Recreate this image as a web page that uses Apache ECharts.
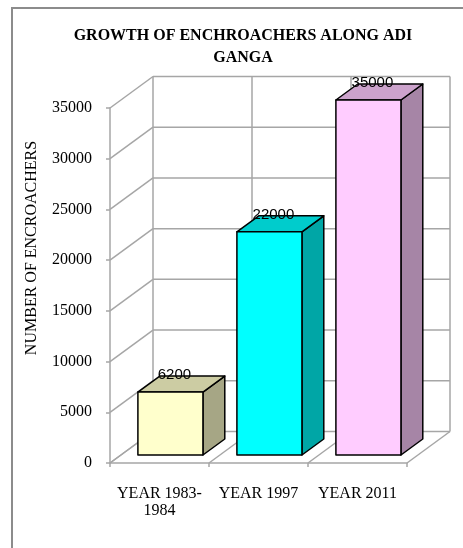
<!DOCTYPE html>
<html>
<head>
<meta charset="utf-8">
<script src="https://cdn.jsdelivr.net/npm/echarts@6/dist/echarts.min.js"></script>
<style>
html,body{margin:0;padding:0;background:#fff;}
#chart{width:463px;height:548px;}
</style>
</head>
<body>
<div id="chart"></div>
<script>
// ---- data ----
const categories = ['YEAR 1983-\n1984', 'YEAR 1997', 'YEAR 2011'];
const encroachers = [6200, 22000, 35000];
const yTicks = [0, 5000, 10000, 15000, 20000, 25000, 30000, 35000];
const titleText = 'GROWTH OF ENCHROACHERS ALONG ADI\nGANGA';
const yAxisTitle = 'NUMBER OF ENCROACHERS';

// ---- styles ----
const faceColors = [
  { front: '#FFFFCC', top: '#CCCCA3', side: '#A6A685' },
  { front: '#00FFFF', top: '#00CCCC', side: '#00A6A6' },
  { front: '#FFCCFF', top: '#CCA3CC', side: '#A685A6' }
];
const GRID = '#a6a6a6';
const DX = 43, DY = -31.5;          // depth of the 3D box
const F0 = 0.254, F1 = 0.762;        // bar depth range (fraction of box depth)
const BAR_RATIO = 0.657;

const chart = echarts.init(document.getElementById('chart'));

function line(x1, y1, x2, y2) {
  return { type: 'line', shape: { x1, y1, x2, y2 }, style: { stroke: GRID, lineWidth: 1.5 }, silent: true };
}

const option = {
  backgroundColor: '#fff',
  animation: false,
  title: {
    text: titleText,
    left: 238, top: 20, textAlign: 'center',
    textStyle: { fontFamily: 'Liberation Serif', fontWeight: 'bold', fontSize: 16, lineHeight: 22, color: '#000' }
  },
  graphic: [
    { type: 'rect', shape: { x: 12, y: 8, width: 470, height: 560 }, style: { fill: 'none', stroke: '#8c8c8c', lineWidth: 2 }, silent: true },
    { type: 'text', x: 32, y: 248, rotation: Math.PI / 2,
      style: { text: yAxisTitle, fontFamily: 'Liberation Serif', fontSize: 16, fill: '#000', textAlign: 'center', textVerticalAlign: 'middle' } }
  ],
  grid: { left: 110, top: 108, width: 297, height: 355 },
  xAxis: {
    type: 'category', data: categories,
    axisLine: { lineStyle: { color: GRID, width: 1.5 } },
    axisTick: { show: true, length: 4, lineStyle: { color: GRID, width: 1.5 } },
    axisLabel: { margin: 22, fontFamily: 'Liberation Serif', fontSize: 16, lineHeight: 17, color: '#000', interval: 0 },
    splitLine: { show: false }
  },
  yAxis: {
    type: 'value', min: 0, max: 35000, interval: 5000,
    axisLine: { show: true, lineStyle: { color: GRID, width: 1.5 } },
    axisTick: { show: true, length: 4, lineStyle: { color: GRID, width: 1.5 } },
    axisLabel: { margin: 18, fontFamily: 'Liberation Serif', fontSize: 16, color: '#000', formatter: v => String(v) },
    splitLine: { show: false }
  },
  series: [
    {
      type: 'custom', z: 1, silent: true,
      data: yTicks.map(v => [0, v]),
      renderItem: function (params, api) {
        const cs = params.coordSys;
        const y = api.coord([0, api.value(1)])[1];
        const xL = cs.x, xR = cs.x + cs.width;
        return { type: 'group', children: [
          line(xL, y, xL + DX, y + DY),
          line(xL + DX, y + DY, xR + DX, y + DY)
        ] };
      }
    },
    {
      type: 'custom', z: 1, silent: true,
      data: categories.map((c, i) => [i, 0]),
      renderItem: function (params, api) {
        const i = api.value(0);
        const c = api.coord([i, 0]);
        const bw = api.size([1, 0])[0];
        const y0 = c[1];
        const yTop = api.coord([i, yTicks[yTicks.length - 1]])[1];
        const xs = [c[0] - bw / 2];
        if (i === categories.length - 1) xs.push(c[0] + bw / 2);
        const ch = [];
        xs.forEach(x => {
          ch.push(line(x, y0, x + DX, y0 + DY));
          ch.push(line(x + DX, y0 + DY, x + DX, yTop + DY));
        });
        return { type: 'group', children: ch };
      }
    },
    {
      type: 'custom', z: 5, silent: true,
      data: encroachers.map((v, i) => [i, v]),
      renderItem: function (params, api) {
        const i = api.value(0), v = api.value(1);
        const p0 = api.coord([i, 0]);
        const p1 = api.coord([i, v]);
        const bw = api.size([1, 0])[0] * BAR_RATIO;
        const fx = DX * F0, fy = DY * F0;
        const bx = DX * (F1 - F0), by = DY * (F1 - F0);
        const l = p0[0] - bw / 2 + fx, r = l + bw;
        const b = p0[1] + fy, t = p1[1] + fy;
        const col = faceColors[i];
        const st = (fill) => ({ fill, stroke: '#000', lineWidth: 1.5, lineJoin: 'round' });
        return { type: 'group', children: [
          { type: 'polygon', shape: { points: [[r, b], [r + bx, b + by], [r + bx, t + by], [r, t]] }, style: st(col.side) },
          { type: 'polygon', shape: { points: [[l, t], [l + bx, t + by], [r + bx, t + by], [r, t]] }, style: st(col.top) },
          { type: 'rect', shape: { x: l, y: t, width: bw, height: b - t }, style: st(col.front) },
          { type: 'text', x: (l + r) / 2 + 4, y: t + by - 1,
            style: { text: String(v), fontFamily: 'Liberation Sans', fontSize: 15, fill: '#000', textAlign: 'center', textVerticalAlign: 'middle' } }
        ] };
      }
    }
  ]
};
chart.setOption(option);
</script>
</body>
</html>
